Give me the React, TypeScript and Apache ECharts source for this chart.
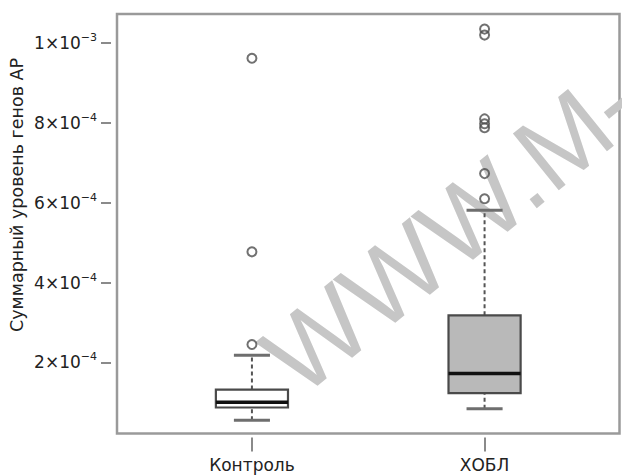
import React, { useEffect, useRef } from 'react';
import * as echarts from 'echarts';

const categories = ['Контроль', 'ХОБЛ'];
const categoryPositions = [1, 2];
const whiskerLow = [0.55e-4, 0.84e-4];
const q1 = [0.87e-4, 1.23e-4];
const median = [1.0e-4, 1.72e-4];
const q3 = [1.32e-4, 3.18e-4];
const whiskerHigh = [2.18e-4, 5.81e-4];
const outliersControl = [2.45e-4, 4.77e-4, 9.62e-4];
const outliersCOPD = [6.1e-4, 6.73e-4, 7.88e-4, 7.98e-4, 8.1e-4, 1.02e-3, 1.035e-3];
const yTickValues = [2e-4, 4e-4, 6e-4, 8e-4, 1e-3];
const yTickMantissa = ['2', '4', '6', '8', '1'];
const yTickExponent = ['−4', '−4', '−4', '−4', '−3'];
const yAxisTitle = 'Суммарный уровень генов АР';
const watermarkText = 'WWW.M-';

const boxFills = ['#ffffff', '#b9b9b9'];
const FONT = 'DejaVu Sans';

export default function App() {
  const ref = useRef<HTMLDivElement>(null);
  useEffect(() => {
    if (!ref.current) return;
    const chart = echarts.init(ref.current, null, { renderer: 'svg' });
    const boxData = categoryPositions.map((x, i) => [x, whiskerLow[i], q1[i], median[i], q3[i], whiskerHigh[i]]);
    const outlierData = [
      ...outliersControl.map((v) => [categoryPositions[0], v]),
      ...outliersCOPD.map((v) => [categoryPositions[1], v]),
    ];
    const findTick = (v: number) => {
      let best = 0;
      yTickValues.forEach((t, i) => {
        if (Math.abs(t - v) < Math.abs(yTickValues[best] - v)) best = i;
      });
      return best;
    };
    const option: any = {
      animation: false,
      backgroundColor: '#ffffff',
      grid: {
        left: 117,
        right: 2.5,
        top: 14,
        bottom: 42.5,
        show: true,
        borderColor: '#9a9a9a',
        borderWidth: 2.5,
        backgroundColor: 'transparent',
      },
      xAxis: {
        type: 'value',
        min: 0.42,
        max: 2.58,
        offset: 4,
        axisLine: { show: false },
        splitLine: { show: false },
        axisTick: {
          show: true,
          customValues: categoryPositions,
          length: 14,
          lineStyle: { color: '#8a8a8a', width: 2 },
        },
        axisLabel: {
          customValues: categoryPositions,
          margin: 19,
          fontSize: 17,
          fontFamily: FONT,
          color: '#222',
          formatter: (v: number) => {
            const i = categoryPositions.findIndex((p) => Math.abs(p - v) < 1e-6);
            return i >= 0 ? categories[i] : '';
          },
        },
      },
      yAxis: {
        type: 'value',
        min: 2.19e-5,
        max: 1.0728e-3,
        offset: 6,
        axisLine: { show: false },
        splitLine: { show: false },
        axisTick: {
          show: true,
          customValues: yTickValues,
          length: 10,
          lineStyle: { color: '#8a8a8a', width: 2 },
        },
        axisLabel: {
          customValues: yTickValues,
          margin: 14,
          formatter: (v: number) => {
            const i = findTick(v);
            return `{m|${yTickMantissa[i]}×10}{e|${yTickExponent[i]}}`;
          },
          rich: {
            m: { fontSize: 17, fontFamily: FONT, color: '#222', lineHeight: 22 },
            e: { fontSize: 11, fontFamily: FONT, color: '#222', lineHeight: 11, verticalAlign: 'top' },
          },
        },
      },
      graphic: [
        {
          type: 'text',
          x: 17,
          y: 195,
          rotation: Math.PI / 2,
          style: {
            text: yAxisTitle,
            font: `17.5px "${FONT}"`,
            fill: '#222',
            textAlign: 'center',
            textVerticalAlign: 'middle',
          },
        },
        {
          type: 'text',
          x: 451,
          y: 230,
          rotation: (39 * Math.PI) / 180,
          z: 1,
          silent: true,
          style: {
            text: watermarkText,
            font: '106px "Liberation Sans"',
            fill: '#c6c6c6',
            textAlign: 'center',
            textVerticalAlign: 'middle',
          },
        },
      ],
      series: [
        {
          type: 'custom',
          z: 3,
          data: boxData,
          encode: { x: 0, y: [1, 2, 3, 4, 5] },
          renderItem: (params: any, api: any) => {
            const x = api.value(0);
            const pLo = api.coord([x, api.value(1)]);
            const pQ1 = api.coord([x, api.value(2)]);
            const pMed = api.coord([x, api.value(3)]);
            const pQ3 = api.coord([x, api.value(4)]);
            const pHi = api.coord([x, api.value(5)]);
            const half = api.size([0.31, 0])[0] / 2;
            const cx = pLo[0];
            const capHalf = half / 2;
            const whiskerStyle = { stroke: '#555', lineWidth: 2, lineDash: [4, 3] };
            const capStyle = { stroke: '#6e6e6e', lineWidth: 3 };
            return {
              type: 'group',
              children: [
                { type: 'line', shape: { x1: cx, y1: pQ3[1], x2: cx, y2: pHi[1] }, style: whiskerStyle },
                { type: 'line', shape: { x1: cx, y1: pLo[1], x2: cx, y2: pQ1[1] }, style: whiskerStyle },
                { type: 'line', shape: { x1: cx - capHalf, y1: pHi[1], x2: cx + capHalf, y2: pHi[1] }, style: capStyle },
                { type: 'line', shape: { x1: cx - capHalf, y1: pLo[1], x2: cx + capHalf, y2: pLo[1] }, style: capStyle },
                {
                  type: 'rect',
                  shape: { x: cx - half, y: pQ3[1], width: 2 * half, height: pQ1[1] - pQ3[1] },
                  style: { fill: boxFills[params.dataIndex], stroke: '#4a4a4a', lineWidth: 2.2 },
                },
                {
                  type: 'line',
                  shape: { x1: cx - half, y1: pMed[1], x2: cx + half, y2: pMed[1] },
                  style: { stroke: '#111', lineWidth: 3.5 },
                },
              ],
            };
          },
        },
        {
          type: 'scatter',
          z: 4,
          data: outlierData,
          symbol: 'circle',
          symbolSize: 9,
          itemStyle: { color: 'rgba(0,0,0,0)', borderColor: '#4d4d4d', borderWidth: 2 },
        },
      ],
    };
    chart.setOption(option);
    return () => chart.dispose();
  }, []);
  return <div ref={ref} style={{ position: 'fixed', left: 0, top: 0, width: 622, height: 476 }} />;
}
